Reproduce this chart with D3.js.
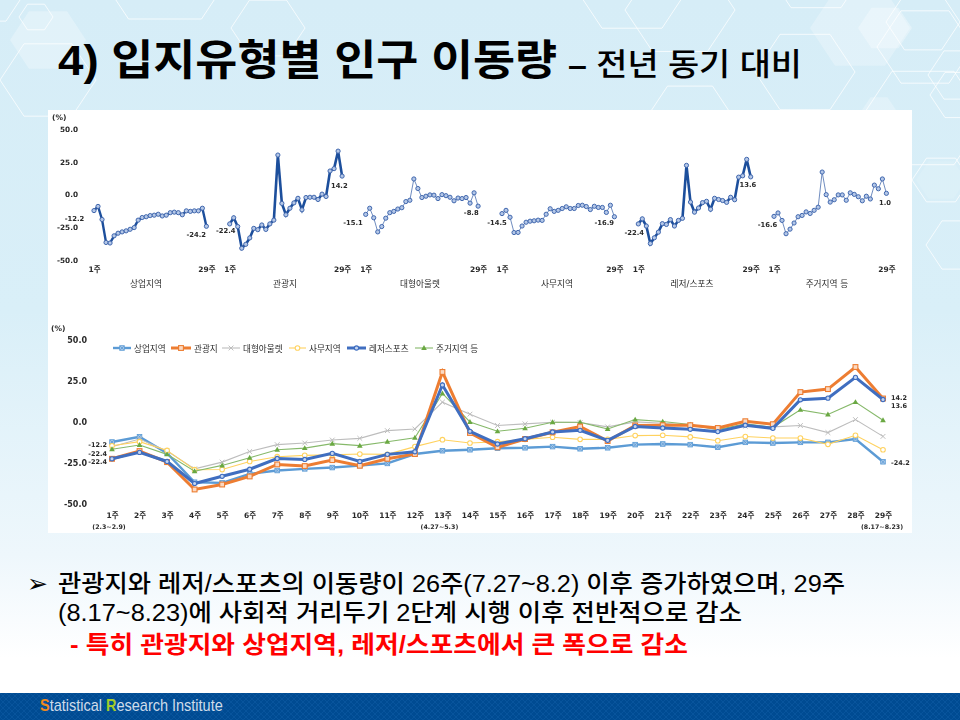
<!DOCTYPE html>
<html lang="ko"><head><meta charset="utf-8">
<script src="https://cdn.jsdelivr.net/npm/d3@7/dist/d3.min.js"></script>
<style>html,body{margin:0;padding:0;background:#fff}svg{display:block}
text{font-family:"DejaVu Sans","Noto Sans CJK KR",sans-serif}
.slide text{font-family:"Liberation Sans","Noto Sans CJK KR",sans-serif}</style>
</head><body><svg id="c" width="960" height="720"></svg>
<script>
const weeks = d3.range(1,30);
const regionNames = ["상업지역","관광지","대형아울렛","사무지역","레저/스포츠","주거지역 등"];
const legendNames = ["상업지역","관광지","대형아울렛","사무지역","레저스포츠","주거지역 등"];
const commercial = [-12.2,-9,-19,-36.6,-37,-31.5,-29.5,-28.5,-27.7,-26.5,-25.2,-19.5,-17.5,-16.9,-16,-15.7,-15,-16.3,-15.7,-13.8,-13.4,-13.8,-15.4,-12.4,-12.8,-12.4,-12.4,-10.4,-24.2];
const tourist = [-22.4,-17.7,-24.4,-41,-38,-33.1,-25.8,-26.8,-23.2,-26.6,-22.4,-19.5,30.3,-6.7,-15.4,-10.4,-6.3,-2.8,-11.6,-2.2,-2,-2,-3.7,0.4,-1.4,18.1,19.9,33.3,14.2];
const outlet = [-15.1,-10.4,-17.7,-28.5,-24.4,-18,-13.8,-12.8,-11,-10,-5.3,-4.3,12,4.7,-2.2,-1.2,-0.2,-0.4,-3,0,-0.8,-2,-4.7,-2.6,-3,-2.2,-6.5,1.4,-8.8];
const office = [-14.5,-12,-17.3,-29,-28.9,-24,-21.1,-20.3,-20,-19.5,-19.7,-15,-10.8,-12.8,-12,-10.6,-9.3,-10.6,-10.6,-8.3,-8.1,-9.1,-11.4,-8.9,-9.8,-9.8,-13.6,-8.1,-16.9];
const leisure = [-22.4,-18.5,-24,-37.4,-33,-28.7,-22.2,-22.8,-19.1,-24,-19.7,-18.1,22.4,-5.7,-13.4,-10.2,-6.1,-5.1,-11.2,-2.8,-3.7,-4.5,-5.9,-2,-3.9,13.4,14.4,27,13.6];
const residential = [-16.6,-14,-19.7,-29.9,-26.4,-21.7,-16.9,-15.9,-13.2,-14.4,-12,-9.6,17.3,0,-5.7,-3.9,-0.2,-0.2,-4.3,1.4,0.2,-1.6,-4.7,-1.2,-3.3,7.3,4.5,12,1];
const seriesValues = [commercial,tourist,outlet,office,leisure,residential];
const yTicks = [50,25,0,-25,-50];
const subLabels = {1:"(2.3~2.9)",13:"(4.27~5.3)",29:"(8.17~8.23)"};
const titleMain = "4) 입지유형별 인구 이동량", titleDash = "– ", titleSub = "전년 동기 대비";
const bodyLines = ["관광지와 레저/스포츠의 이동량이 26주(7.27~8.2) 이후 증가하였으며, 29주","(8.17~8.23)에 사회적 거리두기 2단계 시행 이후 전반적으로 감소","- 특히 관광지와 상업지역, 레저/스포츠에서 큰 폭으로 감소"];

// styling, kept apart from the data
const colors = ["#5b9bd5","#ed7d31","#bdbdbd","#ffd25f","#3f6ec0","#86b96a"];
const markerFill = ["#a9c8e8","#fbd9c2","none","#fff","#c5d5f0","#6aa842"];
const widths = [2.4,3,1.1,1.1,3,1.1];
const smallWidths = [2.4,2.6,.9,.9,2.6,.9];
const svg = d3.select("#c");
const defs = svg.append("defs");
const bg = defs.append("linearGradient").attr("id","bg").attr("x1",0).attr("x2",0).attr("y1",0).attr("y2",1);
[[0,"#d6edf7"],[.45,"#d9eff8"],[.8,"#eef7fc"],[.95,"#ffffff"]].forEach(s=>bg.append("stop").attr("offset",s[0]).attr("stop-color",s[1]));
const band = defs.append("pattern").attr("id","foot").attr("width",6).attr("height",6).attr("patternUnits","userSpaceOnUse");
band.append("rect").attr("width",6).attr("height",6).attr("fill","#004b92");
band.append("path").attr("d","M0 3L3 0L6 3L3 6Z").attr("fill","none").attr("stroke","#0d5aa2").attr("stroke-width",.6);
const blur = defs.append("filter").attr("id","soft").attr("x",0).attr("y",0).attr("width",1).attr("height",1);
blur.append("feGaussianBlur").attr("stdDeviation",.5);

svg.append("rect").attr("width",960).attr("height",693).attr("fill","url(#bg)");
// decorative hexagons
const hex = (cx,cy,r)=>d3.range(6).map(i=>[cx+r*Math.cos(i*Math.PI/3),cy+r*0.87*Math.sin(i*Math.PI/3)].join(",")).join(" ");
[[48,40,38,.28],[860,28,50,.25],[885,28,27,.3],[879,110,17,.25],[941,180,25,.12]].forEach(h=>svg.append("polygon").attr("points",hex(h[0],h[1],h[2])).attr("fill","#fff").attr("fill-opacity",h[3]));
const decor = svg.append("g").attr("class","decor").attr("fill","none").attr("stroke","#fff").attr("stroke-opacity",.75);
[[36,17,17],[48,80,48],[165,-36,73],[268,28,37],[-10,-3,32],[680,10,55],[632,-17,60],[816,-30,50],[805,72,50],[923,22,37],[925,47,48],[923,118,62],[960,75,32],[690,120,45],[941,180,29],[960,95,30],[958,245,32]].forEach(h=>decor.append("polygon").attr("points",hex(...h)));

const slide = svg.append("g").attr("class","slide");
slide.append("text").attr("x",58).attr("y",75).attr("font-size",42).attr("font-weight",700).attr("fill","#000")
  .attr("textLength",499).attr("lengthAdjust","spacingAndGlyphs").text(titleMain);
const sub = slide.append("text").attr("x",568).attr("y",73).attr("font-size",31).attr("font-weight",500).attr("fill","#000")
  .attr("textLength",234).attr("lengthAdjust","spacingAndGlyphs");
sub.append("tspan").attr("dy",3).attr("font-weight",700).text(titleDash);
sub.append("tspan").attr("dy",-1).text(titleSub);

// white picture holding both charts
svg.append("rect").attr("x",48).attr("y",110).attr("width",864).attr("height",423).attr("fill","#fff");
const chart = svg.append("g").attr("filter","url(#soft)");
const ink = "#2a2a2a";
const fmt = d=>d.toFixed(1);

// ---- small multiples
const yS = d3.scaleLinear().domain([-50,50]).range([260,129.3]);
const panelX0 = [94,229.7,365.7,502,638.3,774];
const panelW = 112.4;
const panelNameX = [146,285,420,557,692,827];
const smallStart = [[-19.5,23],[-4,35],[-12.7,27],[-5,27],[-4,37],[-6.5,29]];
const smallEnd = [[112,39],[118,-10],[113,17],[112,27],[118,-11],[117,7]];
chart.append("text").attr("x",52).attr("y",120).attr("font-size",7.5).attr("font-weight",700).attr("fill",ink).text("(%)");
const yg = chart.append("g").attr("transform","translate(78,0)").call(d3.axisLeft(yS).tickValues(yTicks).tickSize(0).tickPadding(0).tickFormat(fmt));
yg.select(".domain").remove();
yg.selectAll("text").attr("font-size",7.3).attr("font-weight",700).attr("fill",ink);
regionNames.forEach((name,i)=>{
  const x = d3.scaleLinear().domain([1,29]).range([panelX0[i],panelX0[i]+panelW]);
  const line = d3.line().x((d,k)=>x(weeks[k])).y(d=>yS(d));
  const g = chart.append("g");
  g.append("path").attr("d",line(seriesValues[i])).attr("fill","none").attr("stroke",smallWidths[i]>1?"#1f4f9c":"#5f7fb8").attr("stroke-width",smallWidths[i]);
  g.selectAll("circle").data(seriesValues[i]).join("circle").attr("cx",(d,k)=>x(weeks[k])).attr("cy",d=>yS(d)).attr("r",2.1)
    .attr("fill","#b4c7e7").attr("stroke","#3f66ad").attr("stroke-width",1);
  const ax = chart.append("g").attr("transform","translate(0,267)")
    .call(d3.axisBottom(x).tickValues([1,29]).tickSize(0).tickPadding(0).tickFormat(d=>d+"주"));
  ax.select(".domain").remove();
  ax.selectAll("text").attr("font-size",7.5).attr("font-weight",700).attr("fill",ink);
  chart.append("text").attr("x",panelNameX[i]).attr("y",287).attr("text-anchor","middle").attr("font-size",8.7).attr("fill",ink).text(name);
  chart.append("text").attr("x",panelX0[i]+smallStart[i][0]).attr("y",195+smallStart[i][1]+2.5).attr("font-size",6.8).attr("font-weight",700)
    .attr("text-anchor","middle").attr("fill",ink).text(fmt(seriesValues[i][0]));
  chart.append("text").attr("x",panelX0[i]+smallEnd[i][0]).attr("y",195+smallEnd[i][1]+2.5).attr("font-size",6.8).attr("font-weight",700)
    .attr("text-anchor","end").attr("fill",ink).text(fmt(seriesValues[i][28]));
});

// ---- combined chart
const x = d3.scalePoint().domain(weeks).range([112,883]);
const y = d3.scaleLinear().domain([-50,50]).range([504.3,339.5]);
chart.append("text").attr("x",51).attr("y",331).attr("font-size",7.5).attr("font-weight",700).attr("fill",ink).text("(%)");
const yA = chart.append("g").attr("transform","translate(87,0)")
  .call(d3.axisLeft(y).tickValues(yTicks).tickSize(0).tickPadding(0).tickFormat(fmt));
yA.select(".domain").remove();
yA.selectAll("text").attr("font-size",8).attr("font-weight",700).attr("fill",ink);
const xA = chart.append("g").attr("transform","translate(0,513)")
  .call(d3.axisBottom(x).tickSize(0).tickPadding(0).tickFormat(d=>d+"주"));
xA.select(".domain").remove();
xA.selectAll("text").attr("font-size",7.5).attr("font-weight",700).attr("fill",ink);
Object.keys(subLabels).forEach(w=>{
  chart.append("text").attr("x",x(+w)+(w==29?-1:-3)).attr("y",528.5).attr("text-anchor","middle").attr("font-size",6.3).attr("font-weight",700).attr("fill",ink).text(subLabels[w]);
});
const marker = (sel,i,cx,cy)=>{
  const g = sel.append("g").attr("transform",`translate(${cx},${cy})`);
  const c = colors[i];
  if(i===0){ g.append("rect").attr("x",-2.3).attr("y",-2.3).attr("width",4.6).attr("height",4.6).attr("fill",markerFill[i]).attr("stroke",c).attr("stroke-width",.8);
    g.append("path").attr("d","M-1.8-1.8L1.8 1.8M-1.8 1.8L1.8-1.8").attr("stroke",c).attr("stroke-width",.8); }
  else if(i===1) g.append("rect").attr("x",-2.4).attr("y",-2.4).attr("width",4.8).attr("height",4.8).attr("fill",markerFill[i]).attr("stroke",c).attr("stroke-width",1.1);
  else if(i===2) g.append("path").attr("d","M-2.4-2.4L2.4 2.4M-2.4 2.4L2.4-2.4").attr("fill","none").attr("stroke",c).attr("stroke-width",1);
  else if(i===3) g.append("circle").attr("r",2.3).attr("fill",markerFill[i]).attr("stroke",c).attr("stroke-width",1.1);
  else if(i===4) g.append("circle").attr("r",2.1).attr("fill",markerFill[i]).attr("stroke",c).attr("stroke-width",1.1);
  else g.append("path").attr("d","M0-2.9L2.8 2L-2.8 2Z").attr("fill",markerFill[i]);
};
const drawOrder = [0,2,3,5,1,4];
drawOrder.forEach(i=>{
  const line = d3.line().x((d,k)=>x(weeks[k])).y(d=>y(d));
  const g = chart.append("g");
  g.append("path").attr("d",line(seriesValues[i])).attr("fill","none").attr("stroke",colors[i]).attr("stroke-width",widths[i]);
  seriesValues[i].forEach((v,k)=>marker(g,i,x(weeks[k]),y(v)));
});
// legend
const legendLine = [[113,131],[171,191],[222,240],[289,306],[347,366],[415,433]];
legendNames.forEach((n,i)=>{
  const [a,b] = legendLine[i];
  chart.append("line").attr("x1",a).attr("x2",b).attr("y1",348).attr("y2",348).attr("stroke",colors[i]).attr("stroke-width",widths[i]);
  marker(chart,i,(a+b)/2,348);
  chart.append("text").attr("x",b+3).attr("y",351.5).attr("font-size",8.6).attr("fill",ink).text(n);
});
// end labels
[[0,444],[1,453.5],[4,461.5]].forEach(l=>{
  chart.append("text").attr("x",107).attr("y",l[1]+2.5).attr("text-anchor","end").attr("font-size",6.5).attr("font-weight",700).attr("fill",ink).text(fmt(seriesValues[l[0]][0]));
});
[[1,397.5],[4,405.5],[0,462]].forEach(l=>{
  chart.append("text").attr("x",891).attr("y",l[1]+2.5).attr("font-size",6.5).attr("font-weight",700).attr("fill",ink).text(fmt(seriesValues[l[0]][28]));
});

// ---- body text
svg.append("text").attr("x",27).attr("y",592).attr("font-size",25).attr("font-weight",700).attr("fill","#000").attr("font-family",'"DejaVu Sans"').text("➢");
const bodyG = svg.append("g").attr("class","slide");
[[58,592,787,"#000"],[58,621,684,"#000"],[70,653,618,"#ff0000"]].forEach((p,i)=>{
  bodyG.append("text").attr("x",p[0]).attr("y",p[1]).attr("font-size",23.5).attr("font-weight",i==2?700:500).attr("fill",p[3])
    .attr("textLength",p[2]).attr("lengthAdjust","spacingAndGlyphs").text(bodyLines[i]);
});
// ---- footer
svg.append("rect").attr("y",693).attr("width",960).attr("height",27).attr("fill","url(#foot)");
const ft = bodyG.append("text").attr("x",0).attr("y",0).attr("font-size",16).attr("fill","#cfdcea");
ft.append("tspan").attr("fill","#f08a1d").attr("font-weight",700).text("S");
ft.append("tspan").text("tatistical ");
ft.append("tspan").attr("fill","#a5cc2a").attr("font-weight",700).text("R");
ft.append("tspan").text("esearch Institute");
const ftScale = 183/ft.node().getComputedTextLength();
ft.attr("transform",`translate(40,711) scale(${ftScale},1)`);
bodyG.raise();
</script></body></html>
